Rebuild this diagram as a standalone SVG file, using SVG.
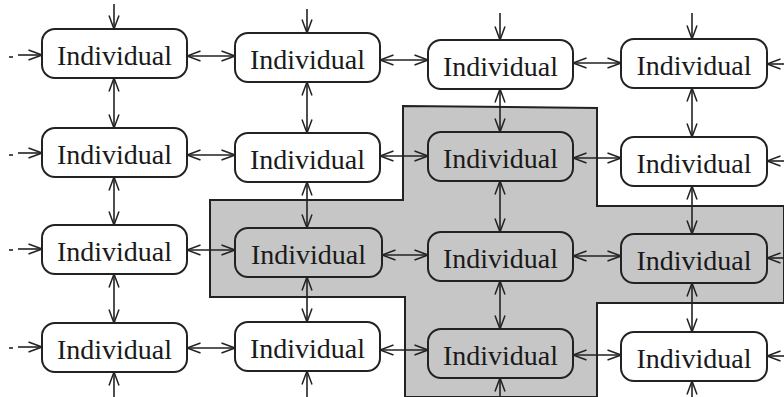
<svg xmlns="http://www.w3.org/2000/svg" width="784" height="397" viewBox="0 0 784 397">
<style>
.n rect{fill:#fff;stroke:#222;stroke-width:2}
.g rect{fill:#c6c6c6}
.n text{font-family:"Liberation Serif",serif;font-size:28px;fill:#1a1a1a;text-anchor:middle}
#conn line{stroke:#222;stroke-width:1.6;marker-end:url(#a)}
#conn line.d{marker-start:url(#a)}
#conn line.t{marker:none}
</style>
<defs>
<marker id="a" viewBox="0 0 15 12" refX="14.5" refY="6" markerWidth="15" markerHeight="12" markerUnits="userSpaceOnUse" orient="auto-start-reverse"><path d="M1,1 L14.5,6 L1,11" fill="none" stroke="#222" stroke-width="1.5"/></marker>
</defs>
<rect width="784" height="397" fill="#fff"/>
<polygon id="region" points="403,106 597,108 597,206 784,206 784,303 597,303 597,397 405,397 405,297 210,297 210,200 403,200" fill="#c6c6c6" stroke="#222" stroke-width="2"/>
<g id="conn">
<line class="t" x1="9" y1="57" x2="13" y2="57"/>
<line class="t" x1="9" y1="155" x2="13" y2="155"/>
<line class="t" x1="9" y1="250" x2="13" y2="250"/>
<line class="t" x1="9" y1="348" x2="13" y2="348"/>
<line x1="18" y1="55" x2="42" y2="55"/>
<line x1="18" y1="153" x2="42" y2="153"/>
<line x1="18" y1="249" x2="42" y2="249"/>
<line x1="18" y1="347" x2="42" y2="347"/>
<line x1="784" y1="64" x2="767" y2="64"/>
<line x1="784" y1="161" x2="767" y2="161"/>
<line x1="784" y1="258" x2="767" y2="258"/>
<line x1="784" y1="356" x2="767" y2="356"/>
<line x1="114" y1="4" x2="114" y2="29"/>
<line x1="307" y1="9" x2="307" y2="33"/>
<line x1="500" y1="13" x2="500" y2="40"/>
<line x1="692" y1="13" x2="692" y2="39"/>
<line x1="114" y1="397" x2="114" y2="372"/>
<line x1="307" y1="397" x2="307" y2="371"/>
<line x1="500" y1="397" x2="500" y2="378"/>
<line x1="692" y1="397" x2="692" y2="381"/>
<line class="d" x1="187" y1="56" x2="235" y2="56"/>
<line class="d" x1="380" y1="60" x2="428" y2="60"/>
<line class="d" x1="573" y1="63" x2="621" y2="63"/>
<line class="d" x1="187" y1="155" x2="235" y2="155"/>
<line class="d" x1="380" y1="156" x2="428" y2="156"/>
<line class="d" x1="573" y1="158" x2="621" y2="158"/>
<line class="d" x1="187" y1="250" x2="235" y2="250"/>
<line class="d" x1="382" y1="255" x2="428" y2="255"/>
<line class="d" x1="573" y1="256" x2="621" y2="256"/>
<line class="d" x1="187" y1="348" x2="235" y2="348"/>
<line class="d" x1="380" y1="350" x2="428" y2="350"/>
<line class="d" x1="573" y1="355" x2="621" y2="355"/>
<line class="d" x1="114" y1="78" x2="114" y2="128"/>
<line class="d" x1="114" y1="177" x2="114" y2="225"/>
<line class="d" x1="114" y1="274" x2="114" y2="323"/>
<line class="d" x1="307" y1="82" x2="307" y2="133"/>
<line class="d" x1="307" y1="182" x2="307" y2="228"/>
<line class="d" x1="307" y1="277" x2="307" y2="322"/>
<line class="d" x1="500" y1="89" x2="500" y2="132"/>
<line class="d" x1="500" y1="181" x2="500" y2="232"/>
<line class="d" x1="500" y1="281" x2="500" y2="329"/>
<line class="d" x1="692" y1="88" x2="692" y2="137"/>
<line class="d" x1="692" y1="186" x2="692" y2="234"/>
<line class="d" x1="692" y1="283" x2="692" y2="332"/>
</g>
<g id="n11" class="n"><rect x="42" y="29" width="145" height="49" rx="13"/><text x="114.5" y="65">Individual</text></g>
<g id="n12" class="n"><rect x="235" y="33" width="145" height="49" rx="13"/><text x="307.5" y="69">Individual</text></g>
<g id="n13" class="n"><rect x="428" y="40" width="145" height="49" rx="13"/><text x="500.5" y="76">Individual</text></g>
<g id="n14" class="n"><rect x="621" y="39" width="146" height="49" rx="13"/><text x="694" y="75">Individual</text></g>
<g id="n21" class="n"><rect x="42" y="128" width="145" height="49" rx="13"/><text x="114.5" y="164">Individual</text></g>
<g id="n22" class="n"><rect x="235" y="133" width="145" height="49" rx="13"/><text x="307.5" y="169">Individual</text></g>
<g id="n23" class="n g"><rect x="428" y="132" width="145" height="49" rx="13"/><text x="500.5" y="168">Individual</text></g>
<g id="n24" class="n"><rect x="621" y="137" width="146" height="49" rx="13"/><text x="694" y="173">Individual</text></g>
<g id="n31" class="n"><rect x="42" y="225" width="145" height="49" rx="13"/><text x="114.5" y="261">Individual</text></g>
<g id="n32" class="n g"><rect x="235" y="228" width="147" height="49" rx="13"/><text x="308.5" y="264">Individual</text></g>
<g id="n33" class="n g"><rect x="428" y="232" width="145" height="49" rx="13"/><text x="500.5" y="268">Individual</text></g>
<g id="n34" class="n g"><rect x="621" y="234" width="146" height="49" rx="13"/><text x="694" y="270">Individual</text></g>
<g id="n41" class="n"><rect x="42" y="323" width="145" height="49" rx="13"/><text x="114.5" y="359">Individual</text></g>
<g id="n42" class="n"><rect x="235" y="322" width="145" height="49" rx="13"/><text x="307.5" y="358">Individual</text></g>
<g id="n43" class="n g"><rect x="428" y="329" width="145" height="49" rx="13"/><text x="500.5" y="365">Individual</text></g>
<g id="n44" class="n"><rect x="621" y="332" width="146" height="49" rx="13"/><text x="694" y="368">Individual</text></g>
</svg>
